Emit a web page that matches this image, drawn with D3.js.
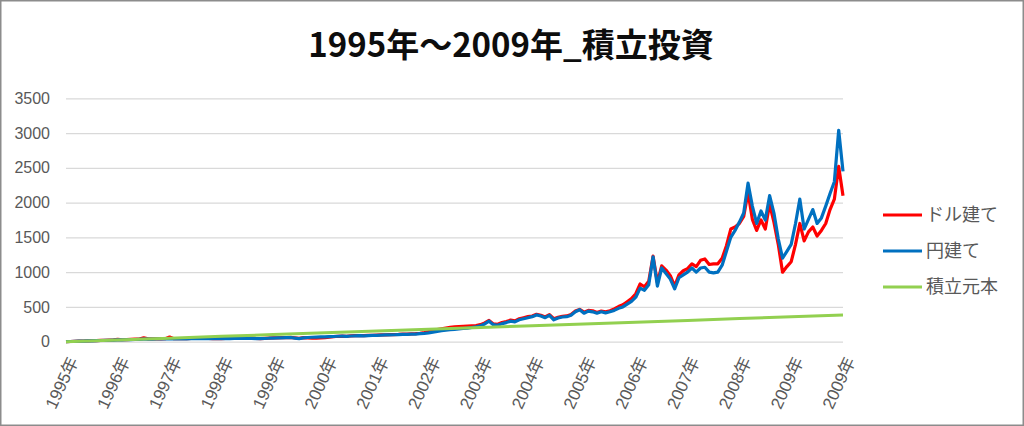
<!DOCTYPE html>
<html><head><meta charset="utf-8">
<script src="https://cdn.jsdelivr.net/npm/d3@7"></script>
<style>body{margin:0;background:#fff} svg{display:block}</style>
</head><body><svg id="c" width="1024" height="426"></svg>
<script>
const chartTitle = "1995年～2009年_積立投資";
const seriesNames = ["ドル建て", "円建て", "積立元本"];
const xTickLabels = ["1995年","1996年","1997年","1998年","1999年","2000年","2001年","2002年","2003年","2004年","2005年","2006年","2007年","2008年","2009年","2009年"];
const yTicks = [0, 500, 1000, 1500, 2000, 2500, 3000, 3500];

// monthly values, Jan 1995 .. end 2009 (181 points)
const dollarValues = [
  1,3,5,7,10,12,14,16,18,20,23,26,
  34,28,31,33,36,38,56,40,41,42,42,43,
  66,43,44,45,45,46,47,48,47,46,45,46,
  45,46,47,48,49,50,52,51,47,45,48,52,
  54,56,58,60,62,54,47,58,55,50,52,55,
  58,65,72,78,80,76,85,88,89,87,90,93,
  95,97,99,103,103,104,108,109,112,115,122,132,
  145,160,175,185,195,205,212,218,220,223,227,232,
  245,270,305,255,250,275,290,310,300,330,345,360,
  370,395,380,355,390,330,350,365,370,390,440,465,
  425,450,445,420,440,430,445,470,505,530,575,620,
  690,830,790,870,1230,850,1090,1030,950,800,960,1020,
  1050,1120,1080,1170,1190,1110,1120,1120,1200,1380,1620,1650,
  1700,1800,2150,1760,1600,1750,1620,1980,1720,1400,1000,1080,
  1150,1400,1700,1450,1580,1650,1520,1600,1700,1900,2050,2520,
  2100
];
const yenValues = [
  1,3,5,7,9,11,13,15,17,19,21,23,
  25,26,28,30,32,34,36,37,38,39,40,41,
  40,40,41,42,42,43,44,45,45,44,43,44,
  43,44,45,46,47,48,50,49,45,43,46,50,
  52,54,56,58,60,52,45,56,60,64,66,68,
  70,73,75,78,80,76,82,85,86,84,87,90,
  92,95,97,99,100,102,104,106,108,110,115,120,
  128,138,148,158,166,172,178,184,190,196,204,214,
  230,255,295,245,235,260,275,295,285,315,330,345,
  360,385,370,345,380,315,340,355,360,380,430,460,
  410,440,430,410,430,415,430,450,480,500,540,580,
  640,770,740,820,1220,800,1060,980,900,760,920,960,
  1000,1060,1000,1060,1070,1000,990,1000,1100,1300,1500,1600,
  1720,1850,2280,1950,1700,1880,1750,2100,1850,1480,1200,1300,
  1400,1700,2050,1620,1760,1900,1700,1780,1950,2130,2300,3040,
  2450
];
// principal, one value per year-tick
const principalValues = [0, 26, 51, 77, 102, 128, 153, 179, 204, 230, 255, 281, 306, 332, 357, 383];

const colors = ["#FF0000", "#0070C0", "#92D050"];

const svg = d3.select("#c");
const W = 1024, H = 426;
svg.append("rect").attr("x",0.75).attr("y",0.75).attr("width",W-1.5).attr("height",H-1.5)
  .attr("fill","#fff").attr("stroke","#8c8c8c").attr("stroke-width",1.5);

const pLeft = 66, pRight = 843, pTop = 98.3, pBottom = 341.7;
const x = d3.scaleLinear().domain([0, dollarValues.length - 1]).range([pLeft, pRight]);
const y = d3.scaleLinear().domain([0, 3500]).range([pBottom, pTop]);
const font = "'Liberation Sans','Noto Sans CJK JP',sans-serif";

svg.append("text").attr("x", 511).attr("y", 57).attr("text-anchor","middle")
  .attr("font-family","'Noto Sans CJK JP',sans-serif").attr("font-weight","bold")
  .attr("font-size",33).attr("fill","#0d0d0d").text(chartTitle);

// grid
const grid = svg.append("g").attr("transform",`translate(${pLeft},0)`)
  .call(d3.axisLeft(y).tickValues(yTicks).tickSize(-(pRight-pLeft)).tickFormat(""));
grid.select(".domain").remove();
grid.selectAll("line").attr("stroke","#d9d9d9").attr("stroke-width",1.3);

// y labels
const ya = svg.append("g").attr("transform",`translate(${pLeft},0)`)
  .call(d3.axisLeft(y).tickValues(yTicks).tickSize(0).tickPadding(16).tickFormat(d3.format("d")));
ya.select(".domain").remove();
ya.selectAll("text").attr("font-family",font).attr("font-size",16).attr("fill","#595959");

// x labels
const tickIdx = xTickLabels.map((d,i)=>i*12);
const xa = svg.append("g").attr("transform",`translate(0,${pBottom})`)
  .call(d3.axisBottom(x).tickValues(tickIdx).tickSize(0).tickFormat((d,i)=>xTickLabels[i]));
xa.select(".domain").remove();
xa.selectAll("text").attr("font-family",font).attr("font-size",17).attr("fill","#595959")
  .attr("text-anchor","end").attr("dy","0.35em")
  .attr("transform","translate(4,15) rotate(-65)");

const line = d3.line().x((d,i)=>x(i)).y(d=>y(d)).curve(d3.curveLinear);
const lineP = d3.line().x((d,i)=>x(i*12)).y(d=>y(d));
const plot = svg.append("g");
plot.append("path").datum(dollarValues).attr("d", line).attr("fill","none")
  .attr("stroke",colors[0]).attr("stroke-width",3.2).attr("stroke-linejoin","round");
plot.append("path").datum(yenValues).attr("d", line).attr("fill","none")
  .attr("stroke",colors[1]).attr("stroke-width",3.2).attr("stroke-linejoin","round");
plot.append("path").datum(principalValues).attr("d", lineP).attr("fill","none")
  .attr("stroke",colors[2]).attr("stroke-width",3);

// legend
const leg = svg.append("g");
seriesNames.forEach((n,i)=>{
  const ly = 215 + i*36;
  leg.append("line").attr("x1",883).attr("x2",922).attr("y1",ly).attr("y2",ly)
    .attr("stroke",colors[i]).attr("stroke-width",3);
  leg.append("text").attr("x",926).attr("y",ly).attr("dy","0.35em")
    .attr("font-family",font).attr("font-size",18).attr("fill","#595959").text(n);
});
</script></body></html>
